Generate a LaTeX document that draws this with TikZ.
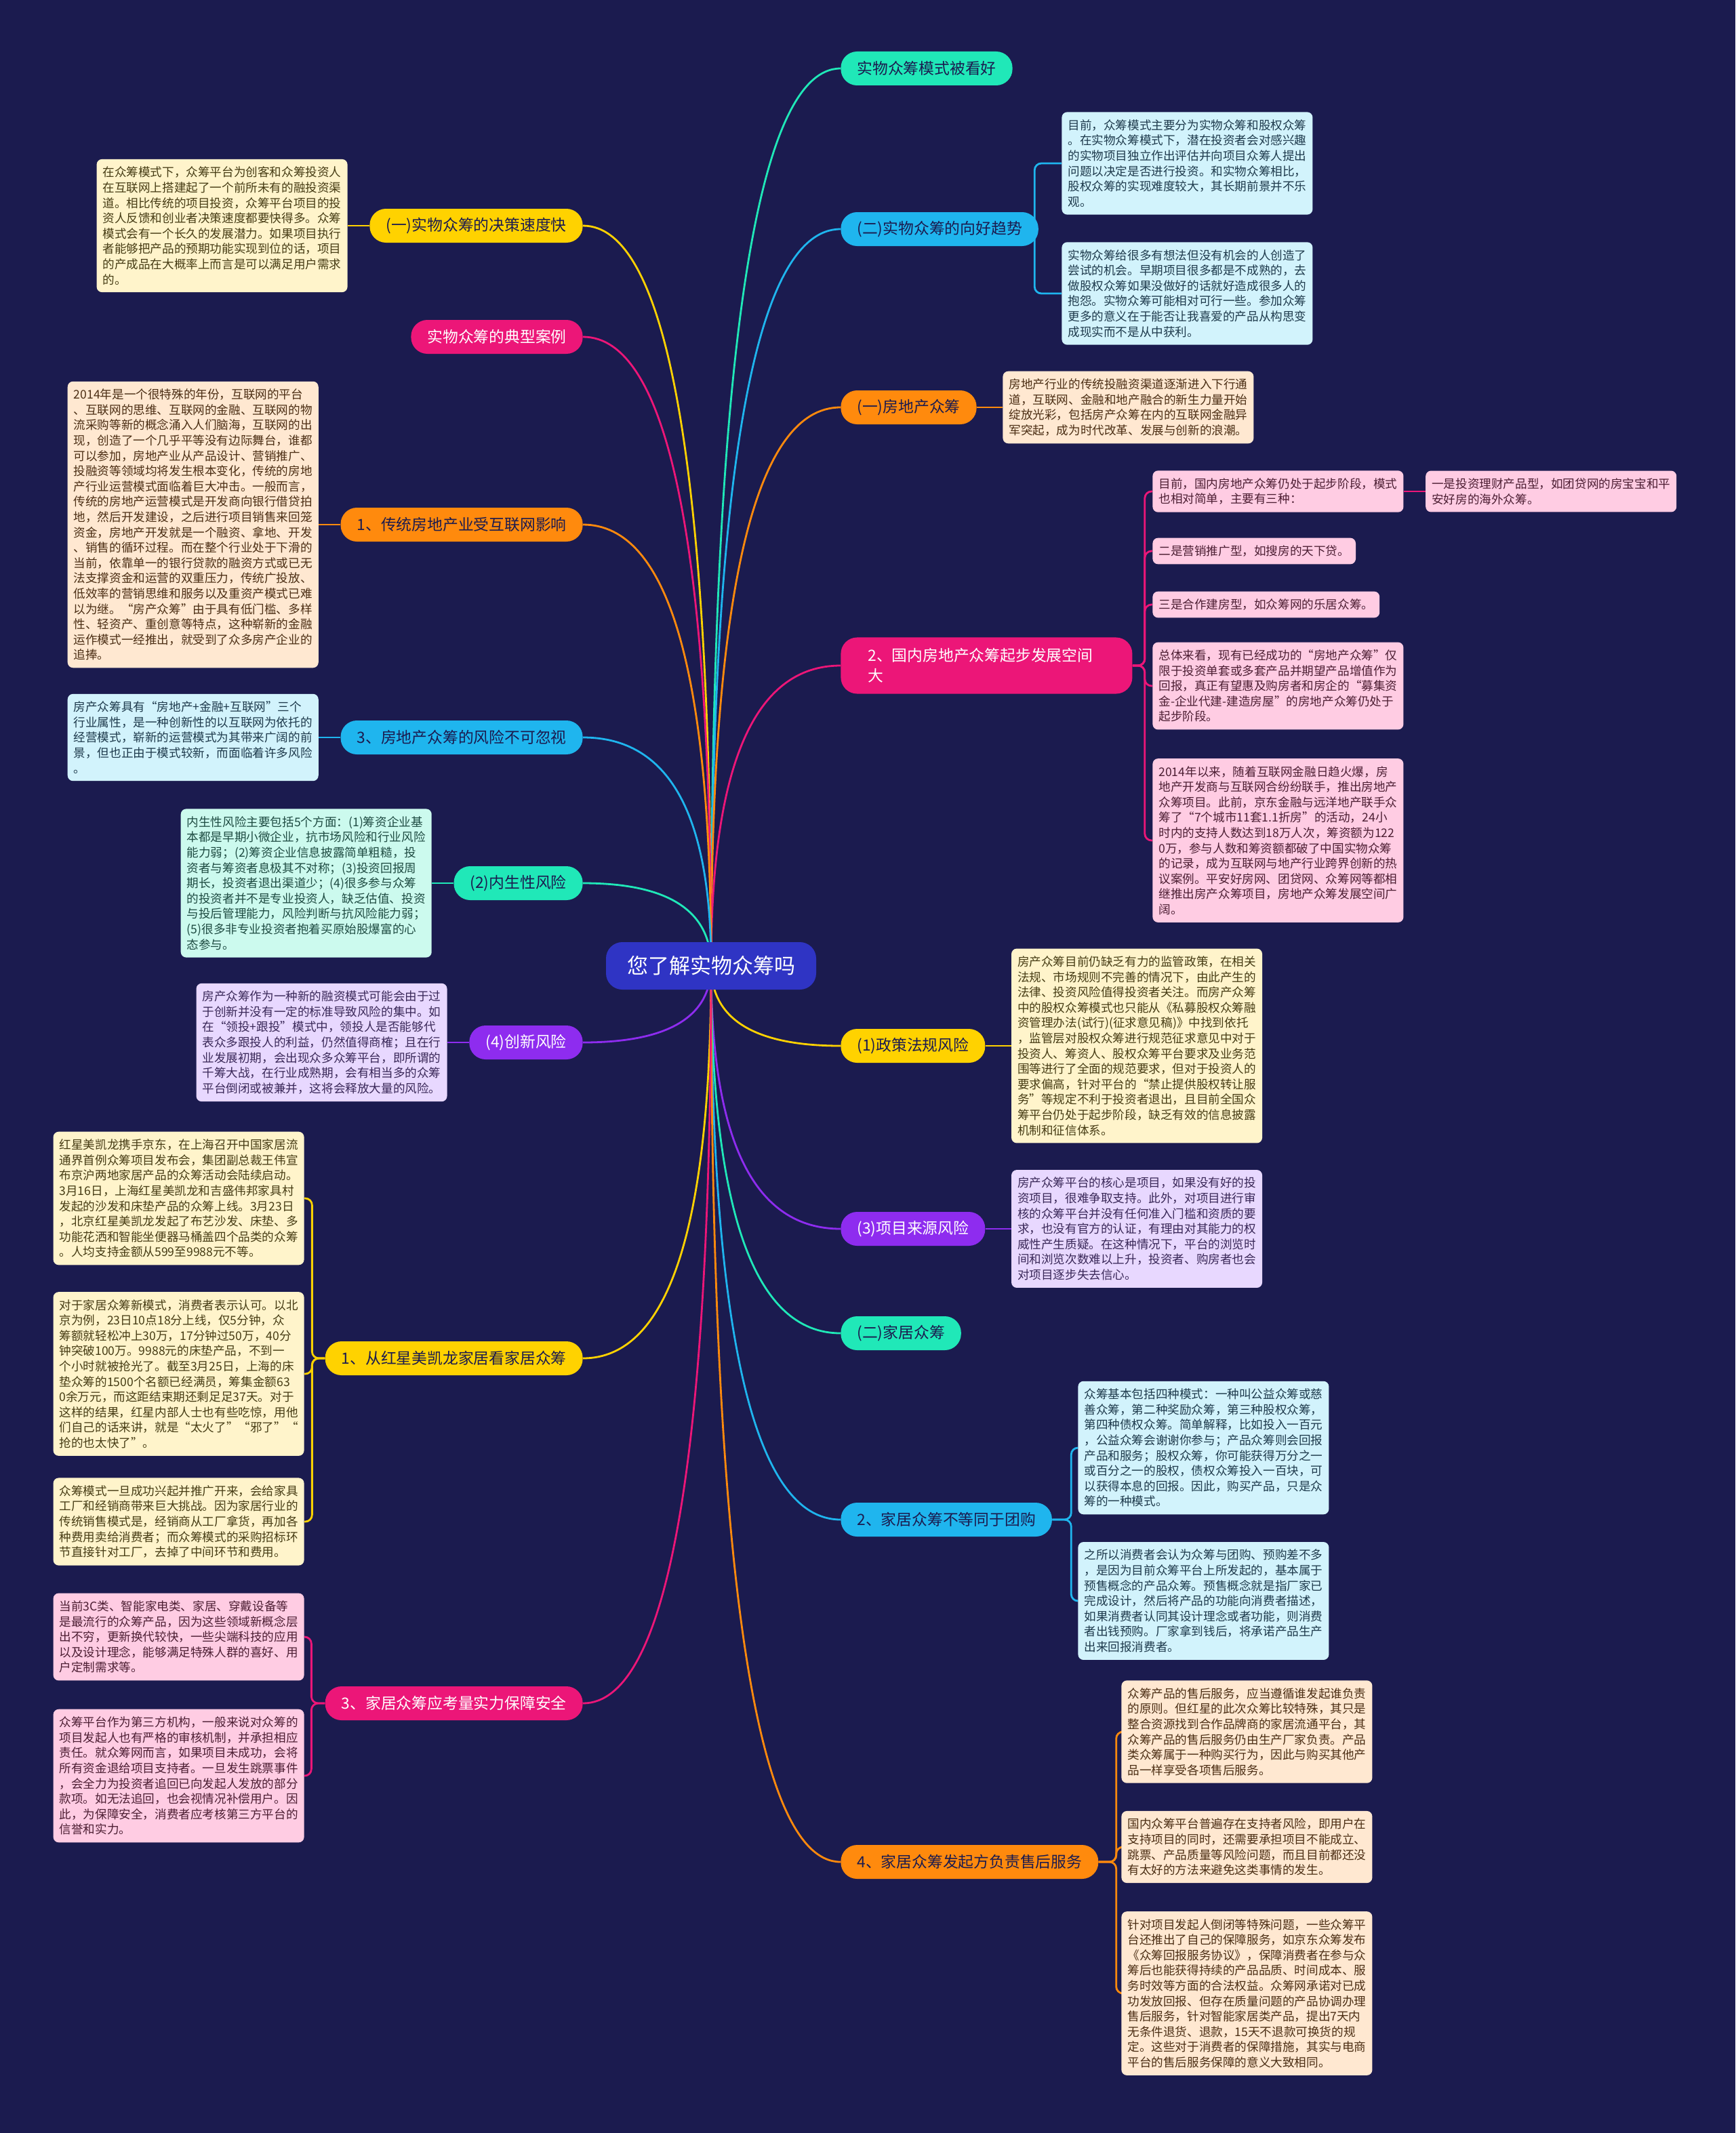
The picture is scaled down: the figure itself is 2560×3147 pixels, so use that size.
\documentclass[tikz,border=0pt]{standalone}
\usepackage{fontspec}
\setmainfont{Noto Sans CJK SC}
\usepackage{xcolor}
\definecolor{NightBg}   {HTML}{1B1B4F}
\definecolor{HubBlue}   {HTML}{2F34C4}
\definecolor{PillInk}   {HTML}{1B1B4F}
\definecolor{MintLine}  {HTML}{20E8B8}
\definecolor{MintNote}  {HTML}{CCFAEE}
\definecolor{MintInk}   {HTML}{1E4B42}
\definecolor{CyanLine}  {HTML}{1FB5EE}
\definecolor{CyanNote}  {HTML}{D2F3FC}
\definecolor{CyanInk}   {HTML}{1E3A4C}
\definecolor{OrangeLine}{HTML}{FF8A0D}
\definecolor{OrangeNote}{HTML}{FFE8D1}
\definecolor{OrangeInk} {HTML}{4B2E14}
\definecolor{PinkLine}  {HTML}{EC1678}
\definecolor{PinkNote}  {HTML}{FFCCE3}
\definecolor{PinkInk}   {HTML}{4C1E33}
\definecolor{YellowLine}{HTML}{FFD200}
\definecolor{YellowNote}{HTML}{FFF4CB}
\definecolor{YellowInk} {HTML}{463C14}
\definecolor{PurpleLine}{HTML}{8E2CEF}
\definecolor{PurpleNote}{HTML}{E8D8FF}
\definecolor{PurpleInk} {HTML}{3A2858}
\usetikzlibrary{positioning,calc,backgrounds}

\tikzset{
  pill/.style={rounded corners=12pt,minimum height=25pt,inner xsep=12pt,
    inner ysep=4pt,font=\fontsize{11.4pt}{14pt}\selectfont},
  note/.style={rounded corners=4pt,align=left,inner xsep=4.5pt,inner ysep=5.5pt,
    font=\fontsize{8.8pt}{11.3pt}\selectfont},
  mintpill/.style={pill,fill=MintLine,text=PillInk},
  cyanpill/.style={pill,fill=CyanLine,text=PillInk},
  orangepill/.style={pill,fill=OrangeLine,text=PillInk},
  pinkpill/.style={pill,fill=PinkLine,text=white},
  yellowpill/.style={pill,fill=YellowLine,text=PillInk},
  purplepill/.style={pill,fill=PurpleLine,text=white},
  mintnote/.style={note,fill=MintNote,text=MintInk},
  cyannote/.style={note,fill=CyanNote,text=CyanInk},
  orangenote/.style={note,fill=OrangeNote,text=OrangeInk},
  pinknote/.style={note,fill=PinkNote,text=PinkInk},
  yellownote/.style={note,fill=YellowNote,text=YellowInk},
  purplenote/.style={note,fill=PurpleNote,text=PurpleInk},
  link/.style={line width=1.4pt},
  bracket/.style={link,rounded corners=5pt},
  hubcurve/.style={link,to path={.. controls
    ($(\tikztostart)!0.667!(\tikztostart |- \tikztotarget)$) and
    ($(\tikztotarget)!0.667!(\tikztostart |- \tikztotarget)$) .. (\tikztotarget)}}
}

\begin{document}
\begin{tikzpicture}[x=0.5pt,y=-0.5pt]
  \useasboundingbox (0,0) rectangle (2560,3147);
  % Root
  \node[rounded corners=12pt,fill=HubBlue,text=white,minimum height=35pt,
    inner xsep=15.5pt,font=\fontsize{15.5pt}{18pt}\selectfont]
    (hub) at (1049,1425) {您了解实物众筹吗};

  % Right branches
  \node[mintpill,anchor=west] (rPraise) at (1240,101) {实物众筹模式被看好};
  \node[cyanpill,anchor=west] (rTrend) at (1240,338) {(二)实物众筹的向好趋势};
  \node[orangepill,anchor=west] (rHouse) at (1240,601) {(一)房地产众筹};
  \node[pinkpill,anchor=west,text width=175pt,align=left,inner xsep=20pt,
    inner ysep=8pt,font=\fontsize{11.4pt}{15pt}\selectfont]
    (rRoom) at (1240,982) {2、国内房地产众筹起步发展空间\\大};
  \node[yellowpill,anchor=west] (rPolicy) at (1240,1543) {(1)政策法规风险};
  \node[purplepill,anchor=west] (rSource) at (1240,1813) {(3)项目来源风险};
  \node[mintpill,anchor=west] (rHome) at (1240,1967) {(二)家居众筹};
  \node[cyanpill,anchor=west] (rGroup) at (1240,2242) {2、家居众筹不等同于团购};
  \node[orangepill,anchor=west] (rAfter) at (1240,2747) {4、家居众筹发起方负责售后服务};

  % Left branches
  \node[yellowpill,anchor=east] (lSpeed) at (860,333) {(一)实物众筹的决策速度快};
  \node[pinkpill,anchor=east] (lCase) at (860,497) {实物众筹的典型案例};
  \node[orangepill,anchor=east] (lNet) at (860,774) {1、传统房地产业受互联网影响};
  \node[cyanpill,anchor=east] (lRisk) at (860,1088) {3、房地产众筹的风险不可忽视};
  \node[mintpill,anchor=east] (lInner) at (860,1303) {(2)内生性风险};
  \node[purplepill,anchor=east] (lNovel) at (860,1538) {(4)创新风险};
  \node[yellowpill,anchor=east] (lRed) at (860,2004) {1、从红星美凯龙家居看家居众筹};
  \node[pinkpill,anchor=east] (lSafe) at (860,2513) {3、家居众筹应考量实力保障安全};

  % Right notes
  \node[cyannote,anchor=west] (rTrendA) at (1566,241)
    {目前，众筹模式主要分为实物众筹和股权众筹\\
     。在实物众筹模式下，潜在投资者会对感兴趣\\
     的实物项目独立作出评估并向项目众筹人提出\\
     问题以决定是否进行投资。和实物众筹相比，\\
     股权众筹的实现难度较大，其长期前景并不乐\\
     观。};
  \node[cyannote,anchor=west] (rTrendB) at (1566,433)
    {实物众筹给很多有想法但没有机会的人创造了\\
     尝试的机会。早期项目很多都是不成熟的，去\\
     做股权众筹如果没做好的话就好造成很多人的\\
     抱怨。实物众筹可能相对可行一些。参加众筹\\
     更多的意义在于能否让我喜爱的产品从构思变\\
     成现实而不是从中获利。};
  \node[orangenote,right=19pt of rHouse] (rHouseA)
    {房地产行业的传统投融资渠道逐渐进入下行通\\
     道，互联网、金融和地产融合的新生力量开始\\
     绽放光彩，包括房产众筹在内的互联网金融异\\
     军突起，成为时代改革、发展与创新的浪潮。};
  \node[pinknote,anchor=west] (rRoomA) at (1700,725)
    {目前，国内房地产众筹仍处于起步阶段，模式\\
     也相对简单，主要有三种：};
  \node[pinknote,right=16pt of rRoomA] (rRoomAA)
    {一是投资理财产品型，如团贷网的房宝宝和平\\
     安好房的海外众筹。};
  \node[pinknote,anchor=west] (rRoomB) at (1700,813)
    {二是营销推广型，如搜房的天下贷。};
  \node[pinknote,anchor=west] (rRoomC) at (1700,892)
    {三是合作建房型，如众筹网的乐居众筹。};
  \node[pinknote,anchor=west] (rRoomD) at (1700,1012)
    {总体来看，现有已经成功的“房地产众筹”仅\\
     限于投资单套或多套产品并期望产品增值作为\\
     回报，真正有望惠及购房者和房企的“募集资\\
     金-企业代建-建造房屋”的房地产众筹仍处于\\
     起步阶段。};
  \node[pinknote,anchor=west] (rRoomE) at (1700,1240)
    {2014年以来，随着互联网金融日趋火爆，房\\
     地产开发商与互联网合纷纷联手，推出房地产\\
     众筹项目。此前，京东金融与远洋地产联手众\\
     筹了“7个城市11套1.1折房”的活动，24小\\
     时内的支持人数达到18万人次，筹资额为122\\
     0万，参与人数和筹资额都破了中国实物众筹\\
     的记录，成为互联网与地产行业跨界创新的热\\
     议案例。平安好房网、团贷网、众筹网等都相\\
     继推出房产众筹项目，房地产众筹发展空间广\\
     阔。};
  \node[yellownote,right=19pt of rPolicy] (rPolicyA)
    {房产众筹目前仍缺乏有力的监管政策，在相关\\
     法规、市场规则不完善的情况下，由此产生的\\
     法律、投资风险值得投资者关注。而房产众筹\\
     中的股权众筹模式也只能从《私募股权众筹融\\
     资管理办法(试行)(征求意见稿)》中找到依托\\
     ，监管层对股权众筹进行规范征求意见中对于\\
     投资人、筹资人、股权众筹平台要求及业务范\\
     围等进行了全面的规范要求，但对于投资人的\\
     要求偏高，针对平台的“禁止提供股权转让服\\
     务”等规定不利于投资者退出，且目前全国众\\
     筹平台仍处于起步阶段，缺乏有效的信息披露\\
     机制和征信体系。};
  \node[purplenote,right=19pt of rSource] (rSourceA)
    {房产众筹平台的核心是项目，如果没有好的投\\
     资项目，很难争取支持。此外，对项目进行审\\
     核的众筹平台并没有任何准入门槛和资质的要\\
     求，也没有官方的认证，有理由对其能力的权\\
     威性产生质疑。在这种情况下，平台的浏览时\\
     间和浏览次数难以上升，投资者、购房者也会\\
     对项目逐步失去信心。};
  \node[cyannote,anchor=west] (rGroupA) at (1590,2136)
    {众筹基本包括四种模式：一种叫公益众筹或慈\\
     善众筹，第二种奖励众筹，第三种股权众筹，\\
     第四种债权众筹。简单解释，比如投入一百元\\
     ，公益众筹会谢谢你参与；产品众筹则会回报\\
     产品和服务；股权众筹，你可能获得万分之一\\
     或百分之一的股权，债权众筹投入一百块，可\\
     以获得本息的回报。因此，购买产品，只是众\\
     筹的一种模式。};
  \node[cyannote,anchor=west] (rGroupB) at (1590,2362)
    {之所以消费者会认为众筹与团购、预购差不多\\
     ，是因为目前众筹平台上所发起的，基本属于\\
     预售概念的产品众筹。预售概念就是指厂家已\\
     完成设计，然后将产品的功能向消费者描述，\\
     如果消费者认同其设计理念或者功能，则消费\\
     者出钱预购。厂家拿到钱后，将承诺产品生产\\
     出来回报消费者。};
  \node[orangenote,anchor=west] (rAfterA) at (1654,2555)
    {众筹产品的售后服务，应当遵循谁发起谁负责\\
     的原则。但红星的此次众筹比较特殊，其只是\\
     整合资源找到合作品牌商的家居流通平台，其\\
     众筹产品的售后服务仍由生产厂家负责。产品\\
     类众筹属于一种购买行为，因此与购买其他产\\
     品一样享受各项售后服务。};
  \node[orangenote,anchor=west] (rAfterB) at (1654,2725)
    {国内众筹平台普遍存在支持者风险，即用户在\\
     支持项目的同时，还需要承担项目不能成立、\\
     跳票、产品质量等风险问题，而且目前都还没\\
     有太好的方法来避免这类事情的发生。};
  \node[orangenote,anchor=west] (rAfterC) at (1654,2941)
    {针对项目发起人倒闭等特殊问题，一些众筹平\\
     台还推出了自己的保障服务，如京东众筹发布\\
     《众筹回报服务协议》，保障消费者在参与众\\
     筹后也能获得持续的产品品质、时间成本、服\\
     务时效等方面的合法权益。众筹网承诺对已成\\
     功发放回报、但存在质量问题的产品协调办理\\
     售后服务，针对智能家居类产品，提出7天内\\
     无条件退货、退款，15天不退款可换货的规\\
     定。这些对于消费者的保障措施，其实与电商\\
     平台的售后服务保障的意义大致相同。};

  % Left notes
  \node[yellownote,left=16pt of lSpeed] (lSpeedA)
    {在众筹模式下，众筹平台为创客和众筹投资人\\
     在互联网上搭建起了一个前所未有的融投资渠\\
     道。相比传统的项目投资，众筹平台项目的投\\
     资人反馈和创业者决策速度都要快得多。众筹\\
     模式会有一个长久的发展潜力。如果项目执行\\
     者能够把产品的预期功能实现到位的话，项目\\
     的产成品在大概率上而言是可以满足用户需求\\
     的。};
  \node[orangenote,left=16pt of lNet] (lNetA)
    {2014年是一个很特殊的年份，互联网的平台\\
     、互联网的思维、互联网的金融、互联网的物\\
     流采购等新的概念涌入人们脑海，互联网的出\\
     现，创造了一个几乎平等没有边际舞台，谁都\\
     可以参加，房地产业从产品设计、营销推广、\\
     投融资等领域均将发生根本变化，传统的房地\\
     产行业运营模式面临着巨大冲击。一般而言，\\
     传统的房地产运营模式是开发商向银行借贷拍\\
     地，然后开发建设，之后进行项目销售来回笼\\
     资金，房地产开发就是一个融资、拿地、开发\\
     、销售的循环过程。而在整个行业处于下滑的\\
     当前，依靠单一的银行贷款的融资方式或已无\\
     法支撑资金和运营的双重压力，传统广投放、\\
     低效率的营销思维和服务以及重资产模式已难\\
     以为继。“房产众筹”由于具有低门槛、多样\\
     性、轻资产、重创意等特点，这种崭新的金融\\
     运作模式一经推出，就受到了众多房产企业的\\
     追捧。};
  \node[cyannote,left=16pt of lRisk] (lRiskA)
    {房产众筹具有“房地产+金融+互联网”三个\\
     行业属性，是一种创新性的以互联网为依托的\\
     经营模式，崭新的运营模式为其带来广阔的前\\
     景，但也正由于模式较新，而面临着许多风险\\
     。};
  \node[mintnote,left=16pt of lInner] (lInnerA)
    {内生性风险主要包括5个方面：(1)筹资企业基\\
     本都是早期小微企业，抗市场风险和行业风险\\
     能力弱；(2)筹资企业信息披露简单粗糙，投\\
     资者与筹资者息极其不对称；(3)投资回报周\\
     期长，投资者退出渠道少；(4)很多参与众筹\\
     的投资者并不是专业投资人，缺乏估值、投资\\
     与投后管理能力，风险判断与抗风险能力弱；\\
     (5)很多非专业投资者抱着买原始股爆富的心\\
     态参与。};
  \node[purplenote,left=16pt of lNovel] (lNovelA)
    {房产众筹作为一种新的融资模式可能会由于过\\
     于创新并没有一定的标准导致风险的集中。如\\
     在“领投+跟投”模式中，领投人是否能够代\\
     表众多跟投人的利益，仍然值得商榷；且在行\\
     业发展初期，会出现众多众筹平台，即所谓的\\
     千筹大战，在行业成熟期，会有相当多的众筹\\
     平台倒闭或被兼并，这将会释放大量的风险。};
  \node[yellownote,anchor=east] (lRedA) at (449,1768)
    {红星美凯龙携手京东，在上海召开中国家居流\\
     通界首例众筹项目发布会，集团副总裁王伟宣\\
     布京沪两地家居产品的众筹活动会陆续启动。\\
     3月16日，上海红星美凯龙和吉盛伟邦家具村\\
     发起的沙发和床垫产品的众筹上线。3月23日\\
     ，北京红星美凯龙发起了布艺沙发、床垫、多\\
     功能花洒和智能坐便器马桶盖四个品类的众筹\\
     。人均支持金额从599至9988元不等。};
  \node[yellownote,anchor=east] (lRedB) at (449,2027)
    {对于家居众筹新模式，消费者表示认可。以北\\
     京为例，23日10点18分上线，仅5分钟，众\\
     筹额就轻松冲上30万，17分钟过50万，40分\\
     钟突破100万。9988元的床垫产品，不到一\\
     个小时就被抢光了。截至3月25日，上海的床\\
     垫众筹的1500个名额已经满员，筹集金额63\\
     0余万元，而这距结束期还剩足足37天。对于\\
     这样的结果，红星内部人士也有些吃惊，用他\\
     们自己的话来讲，就是“太火了”“邪了”“\\
     抢的也太快了”。};
  \node[yellownote,anchor=east] (lRedC) at (449,2245)
    {众筹模式一旦成功兴起并推广开来，会给家具\\
     工厂和经销商带来巨大挑战。因为家居行业的\\
     传统销售模式是，经销商从工厂拿货，再加各\\
     种费用卖给消费者；而众筹模式的采购招标环\\
     节直接针对工厂，去掉了中间环节和费用。};
  \node[pinknote,anchor=east] (lSafeA) at (449,2415)
    {当前3C类、智能家电类、家居、穿戴设备等\\
     是最流行的众筹产品，因为这些领域新概念层\\
     出不穷，更新换代较快，一些尖端科技的应用\\
     以及设计理念，能够满足特殊人群的喜好、用\\
     户定制需求等。};
  \node[pinknote,anchor=east] (lSafeB) at (449,2620)
    {众筹平台作为第三方机构，一般来说对众筹的\\
     项目发起人也有严格的审核机制，并承担相应\\
     责任。就众筹网而言，如果项目未成功，会将\\
     所有资金退给项目支持者。一旦发生跳票事件\\
     ，会全力为投资者追回已向发起人发放的部分\\
     款项。如无法追回，也会视情况补偿用户。因\\
     此，为保障安全，消费者应考核第三方平台的\\
     信誉和实力。};

  \begin{scope}[on background layer]
    \fill[NightBg] (0,0) rectangle (2560,3147);
    % Root to branches
    \draw[hubcurve,MintLine] (hub.center) to (rPraise.west);
    \draw[hubcurve,CyanLine] (hub.center) to (rTrend.west);
    \draw[hubcurve,OrangeLine] (hub.center) to (rHouse.west);
    \draw[hubcurve,PinkLine] (hub.center) to (rRoom.west);
    \draw[hubcurve,YellowLine] (hub.center) to (rPolicy.west);
    \draw[hubcurve,PurpleLine] (hub.center) to (rSource.west);
    \draw[hubcurve,MintLine] (hub.center) to (rHome.west);
    \draw[hubcurve,CyanLine] (hub.center) to (rGroup.west);
    \draw[hubcurve,OrangeLine] (hub.center) to (rAfter.west);
    \draw[hubcurve,YellowLine] (hub.center) to (lSpeed.east);
    \draw[hubcurve,PinkLine] (hub.center) to (lCase.east);
    \draw[hubcurve,OrangeLine] (hub.center) to (lNet.east);
    \draw[hubcurve,CyanLine] (hub.center) to (lRisk.east);
    \draw[hubcurve,MintLine] (hub.center) to (lInner.east);
    \draw[hubcurve,PurpleLine] (hub.center) to (lNovel.east);
    \draw[hubcurve,YellowLine] (hub.center) to (lRed.east);
    \draw[hubcurve,PinkLine] (hub.center) to (lSafe.east);
    % Branches to notes
    \draw[bracket,CyanLine] ($(rTrend.east)+(-6,0)$) |- (rTrendA.west);
    \draw[bracket,CyanLine] ($(rTrend.east)+(-6,0)$) |- (rTrendB.west);
    \draw[link,OrangeLine] (rHouse.east) -- (rHouseA.west);
    \draw[bracket,PinkLine] (rRoom.east) -- ++(18,0) |- (rRoomA.west);
    \draw[bracket,PinkLine] (rRoom.east) -- ++(18,0) |- (rRoomB.west);
    \draw[bracket,PinkLine] (rRoom.east) -- ++(18,0) |- (rRoomC.west);
    \draw[bracket,PinkLine] (rRoom.east) -- ++(18,0) |- (rRoomD.west);
    \draw[bracket,PinkLine] (rRoom.east) -- ++(18,0) |- (rRoomE.west);
    \draw[link,PinkLine] (rRoomA.east) -- (rRoomAA.west);
    \draw[link,YellowLine] (rPolicy.east) -- (rPolicyA.west);
    \draw[link,PurpleLine] (rSource.east) -- (rSourceA.west);
    \draw[bracket,CyanLine] (rGroup.east) -- ++(28,0) |- (rGroupA.west);
    \draw[bracket,CyanLine] (rGroup.east) -- ++(28,0) |- (rGroupB.west);
    \draw[bracket,OrangeLine] (rAfter.east) -- ++(26,0) |- (rAfterA.west);
    \draw[bracket,OrangeLine] (rAfter.east) -- ++(26,0) |- (rAfterB.west);
    \draw[bracket,OrangeLine] (rAfter.east) -- ++(26,0) |- (rAfterC.west);
    \draw[link,YellowLine] (lSpeed.west) -- (lSpeedA.east);
    \draw[link,OrangeLine] (lNet.west) -- (lNetA.east);
    \draw[link,CyanLine] (lRisk.west) -- (lRiskA.east);
    \draw[link,MintLine] (lInner.west) -- (lInnerA.east);
    \draw[link,PurpleLine] (lNovel.west) -- (lNovelA.east);
    \draw[bracket,YellowLine] (lRed.west) -- ++(-19,0) |- (lRedA.east);
    \draw[bracket,YellowLine] (lRed.west) -- ++(-19,0) |- (lRedB.east);
    \draw[bracket,YellowLine] (lRed.west) -- ++(-19,0) |- (lRedC.east);
    \draw[bracket,PinkLine] (lSafe.west) -- ++(-20,0) |- (lSafeA.east);
    \draw[bracket,PinkLine] (lSafe.west) -- ++(-20,0) |- (lSafeB.east);
  \end{scope}
\end{tikzpicture}
\end{document}
